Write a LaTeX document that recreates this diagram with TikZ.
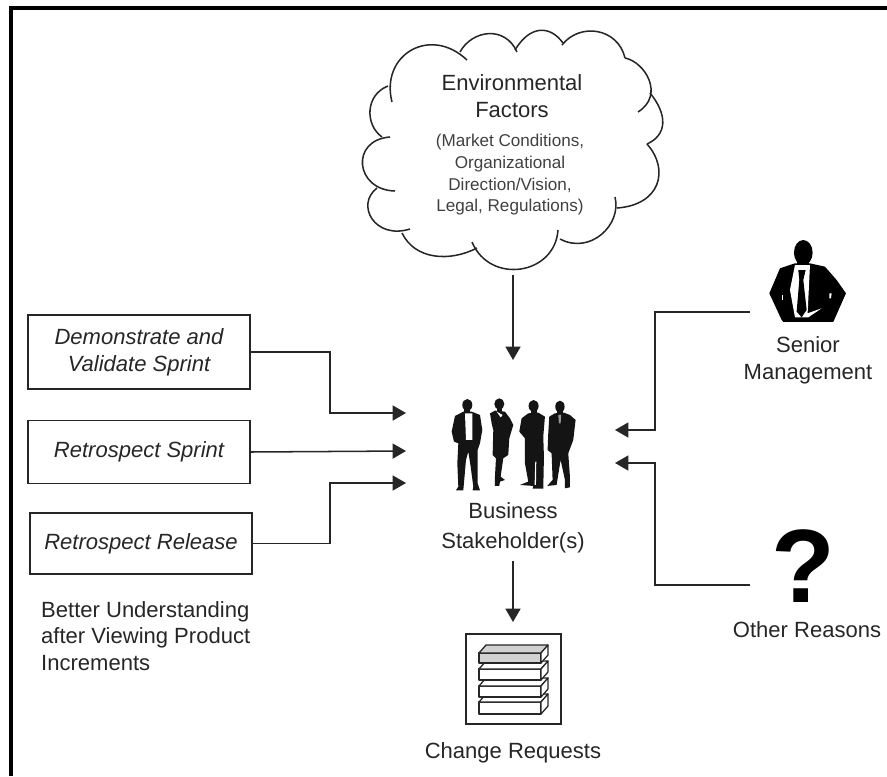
\documentclass[tikz,border=0pt]{standalone}
\usepackage{fontspec}
\setmainfont{Liberation Sans}
\usetikzlibrary{arrows.meta}
\tikzset{
  lbl/.style={font=\fontsize{18.8pt}{22.8pt}\selectfont,text=black!85,align=center,inner sep=0pt},
  smalllbl/.style={font=\fontsize{14.6pt}{18.5pt}\selectfont,text=black!75,align=center,inner sep=0pt},
  stepbox/.style={draw=black!85,line width=1.3pt,minimum width=6.66cm,font=\fontsize{18.8pt}{22.8pt}\itshape\selectfont,text=black!85,align=center,inner sep=0pt},
  arr/.style={draw=black!85,line width=1.3pt,-{Triangle[length=0.40cm,width=0.45cm]}},
  cloudline/.style={draw=black!85,line width=1.3pt},
  crate/.style={draw=black!85,line width=1.1pt,line join=round},
}
\begin{document}
\begin{tikzpicture}[x=0.03cm,y=-0.03cm]
\useasboundingbox (0,0) rectangle (887,776);
\fill[black] (9,6) rectangle (887,10);
\fill[black] (9,6) rectangle (13,776);

% cloud
\draw[cloudline] (392,102) .. controls (380,55) and (430,25) .. (467,60);
\draw[cloudline] (460,52) .. controls (472,30) and (505,25) .. (517,52);
\draw[cloudline] (515,50) .. controls (530,25) and (550,25) .. (563,43);
\draw[cloudline] (562,45) .. controls (580,22) and (618,28) .. (625,58);
\draw[cloudline] (625,58) .. controls (645,62) and (665,95) .. (638,112);
\draw[cloudline] (650,93) .. controls (668,115) and (667,135) .. (647,144);
\draw[cloudline] (647,144) .. controls (670,170) and (660,205) .. (617,208);
\draw[cloudline] (615,197) .. controls (622,225) and (590,255) .. (560,239);
\draw[cloudline] (558,230) .. controls (555,275) and (490,285) .. (472,242);
\draw[cloudline] (477,248) .. controls (450,262) and (415,260) .. (402,233);
\draw[cloudline] (410,229) .. controls (375,240) and (355,205) .. (377,188);
\draw[cloudline] (395,191) .. controls (355,190) and (350,140) .. (390,137);
\draw[cloudline] (382,137) .. controls (365,125) and (365,95) .. (388,86);
\node[lbl] (envtitle) at (512,83) {Environmental};
\node[lbl] (envtitle2) at (512,110) {Factors};
\node[smalllbl] (envtext) at (510,175) {(Market Conditions,\\Organizational\\Direction/Vision,\\Legal, Regulations)};

% left boxes
\node[stepbox,minimum height=2.22cm] (demo) at (139,352) {\textit{Demonstrate and}\\\textit{Validate Sprint}};
\node[stepbox,minimum height=1.89cm] (retrosprint) at (139,452) {\textit{Retrospect Sprint}};
\node[stepbox,minimum height=1.83cm] (retrorelease) at (141,543.5) {\textit{Retrospect Release}};
\node[lbl,align=left,anchor=north west] (better) at (41,601) {Better Understanding\\after Viewing Product\\Increments};

% people
\begin{scope}[shift={(430,380)},x=0.01cm,y=-0.01cm]
\fill[black!92] (112,75) ellipse [x radius=15,y radius=18];
\fill[black!92] (103,85) rectangle (121,100);
\fill[black!92] (100,95) -- (75,108) -- (65,155) -- (72,185) -- (85,190) -- (82,250) -- (85,320) -- (78,331) -- (100,331) -- (108,240) -- (115,215) -- (122,260) -- (130,320) -- (128,331) -- (150,331) -- (143,310) -- (143,210) -- (150,190) -- (157,150) -- (150,105) -- (125,95) -- cycle;
\fill[white] (105,100) -- (127,100) -- (127,180) -- (108,180) -- cycle;
\fill[black!92] (208,72) ellipse [x radius=15,y radius=17];
\fill[black!92] (200,80) rectangle (216,100);
\fill[black!92] (195,92) -- (180,100) -- (185,130) -- (190,150) -- (188,225) -- (198,235) -- (195,290) -- (195,318) -- (208,318) -- (210,305) -- (225,300) -- (212,290) -- (220,235) -- (235,225) -- (238,175) -- (250,135) -- (240,115) -- (225,95) -- cycle;
\fill[white] (200,95) -- (218,105) -- (212,112) -- cycle;
\fill[black!92] (311,78) ellipse [x radius=15,y radius=18];
\fill[black!92] (302,85) rectangle (320,102);
\fill[black!92] (295,100) -- (275,115) -- (268,155) -- (285,175) -- (285,250) -- (295,305) -- (270,315) -- (310,318) -- (308,326) -- (340,326) -- (342,230) -- (340,170) -- (345,110) -- (325,98) -- cycle;
\fill[white] (316,245) -- (319,245) -- (318,315) -- (314,315) -- cycle;
\fill[black!92] (390,80) ellipse [x radius=14,y radius=18];
\fill[black!92] (382,88) rectangle (398,102);
\fill[black!92] (375,100) -- (358,110) -- (355,160) -- (353,210) -- (365,220) -- (368,300) -- (352,318) -- (380,315) -- (392,240) -- (405,300) -- (405,325) -- (420,322) -- (420,290) -- (415,220) -- (430,180) -- (437,120) -- (420,105) -- (402,98) -- cycle;
\fill[white!60!black] (385,105) -- (394,105) -- (392,130) -- (387,130) -- cycle;
\end{scope}
\node[lbl] (business) at (513,511) {Business};
\node[lbl] (stake) at (513,543) {Stakeholder(s)};

% senior manager
\begin{scope}[shift={(740,260)},x=0.01cm,y=-0.01cm]
\fill[black] (190,-22) ellipse [x radius=28,y radius=38];
\fill[black] (170,-5) rectangle (208,20);
\fill[black] (165,10) -- (120,25) -- (88,100) -- (125,180) -- (130,186) -- (280,186) -- (318,100) -- (290,60) -- (255,20) -- (210,10) -- cycle;
\fill[white] (165,15) -- (210,15) -- (203,160) -- (245,145) -- (205,172) -- (165,172) -- (150,90) -- cycle;
\fill[black] (175,30) -- (197,30) -- (190,60) -- (200,150) -- (185,172) -- (170,155) -- (178,60) -- cycle;
\fill[white] (125,105) -- (130,105) -- (130,120) -- (125,120) -- cycle;
\fill[white] (268,100) -- (275,100) -- (273,115) -- (268,115) -- cycle;
\end{scope}
\node[lbl] (senior) at (808,360) {Senior\\Management};

% question mark
\node[font=\bfseries\fontsize{89pt}{89pt}\selectfont,inner sep=0pt] (quest) at (803,566) {?};
\node[lbl] (other) at (807,630) {Other Reasons};

% change requests
\node[draw=black!85,line width=1.3pt,minimum width=2.85cm,minimum height=2.7cm] (changebox) at (513.5,679) {};
\foreach \ytop/\ybot/\shade in {702/714/white,686/697/white,669/680/white,653/663/black!18}{
  \filldraw[crate,fill=\shade] (479,\ytop) rectangle (541,\ybot);
  \filldraw[crate,fill=\shade] (479,\ytop) -- (486,\ytop-8) -- (548,\ytop-8) -- (541,\ytop) -- cycle;
  \filldraw[crate,fill=white] (541,\ytop) -- (548,\ytop-8) -- (548,\ybot-8) -- (541,\ybot) -- cycle;
}
\node[lbl] (changelbl) at (513,753) {Change Requests};

% connectors
\coordinate (cloudfoot) at (513,275);
\coordinate (peopletop) at (513,360);
\coordinate (in1) at (406,413);
\coordinate (in2) at (406,451);
\coordinate (in3) at (406,483);
\coordinate (in4) at (615,430);
\coordinate (in5) at (615,463);
\coordinate (bend1) at (330,413);
\coordinate (bend3) at (330,483);
\coordinate (bend4) at (655,430);
\coordinate (bend5) at (655,463);
\coordinate (seniorout) at (750,312);
\coordinate (otherout) at (750,585);
\coordinate (stakefoot) at (513,561);
\coordinate (changetop) at (513,622);
\draw[arr] (cloudfoot) -- (peopletop);
\draw[arr] (demo.east) -| (bend1) -- (in1);
\draw[arr] (retrosprint.east) -- (in2);
\draw[arr] (retrorelease.east) -| (bend3) -- (in3);
\draw[arr] (seniorout) -| (bend4) -- (in4);
\draw[arr] (otherout) -| (bend5) -- (in5);
\draw[arr] (stakefoot) -- (changetop);
\end{tikzpicture}
\end{document}
